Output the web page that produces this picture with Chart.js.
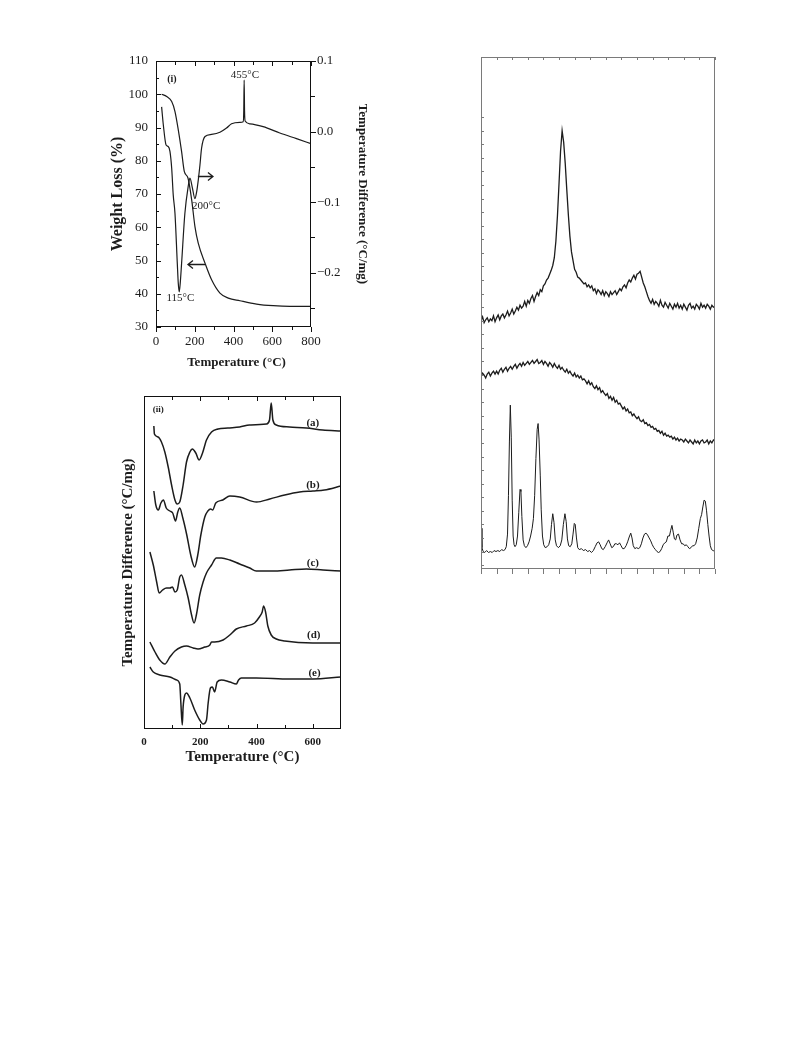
<!DOCTYPE html>
<html>
<head>
<meta charset="utf-8">
<script src="https://cdn.jsdelivr.net/npm/chart.js@4.4.0/dist/chart.umd.min.js"></script>
<style>
  html, body { margin: 0; padding: 0; background: #fff; }
  body { width: 791px; height: 1043px; position: relative; overflow: hidden; }
  canvas { position: absolute; }
</style>
</head>
<body>
<canvas id="tga" width="280" height="330" style="left:100px;top:45px"></canvas>
<canvas id="dta" width="260" height="390" style="left:100px;top:385px"></canvas>
<canvas id="xrd" width="260" height="540" style="left:470px;top:45px"></canvas>
<script>
// ---- panel (i): TG / DTA of the precursor ----
const tgTemp = [29, 55, 81, 98, 115, 132, 146, 165, 184, 201, 218, 253, 287, 330, 373, 433, 519, 605, 691, 800];
const tgWeight = [100, 99.3, 97.8, 94.8, 89.3, 82.8, 76.8, 74.8, 68.3, 60.2, 55.2, 49.2, 44.2, 40.2, 38.7, 37.9, 36.9, 36.4, 36.2, 36.2];

const dtaTemp = [29, 38, 52, 63, 72, 81, 89, 98, 110, 115, 120, 125, 132, 149, 166, 175, 188, 201, 210, 218,
  227, 235, 253, 287, 330, 364, 390, 433, 450, 453, 455, 457, 460, 485, 553, 639, 725, 800];
const dtaDiff = [0.035, 0.009, -0.019, -0.021, -0.028, -0.052, -0.09, -0.116, -0.187, -0.215, -0.227, -0.215, -0.187, -0.116, -0.078, -0.066, -0.080, -0.095, -0.085, -0.069,
  -0.047, -0.024, -0.007, -0.004, -0.001, 0.005, 0.011, 0.013, 0.014, 0.030, 0.073, 0.030, 0.015, 0.011, 0.007, -0.002, -0.010, -0.017];

const tempTicks = [0, 200, 400, 600, 800];
const tempMinor = [100, 300, 500, 700];
const weightTicks = [30, 40, 50, 60, 70, 80, 90, 100, 110];
const weightMinor = [35, 45, 55, 65, 75, 85, 95, 105];
const diffTicks = [0.1, 0, -0.1, -0.2];
const diffLabels = ['0.1', '0.0', '\u22120.1', '\u22120.2'];
const diffMinor = [0.05, -0.05, -0.15, -0.25];

// ---- panel (ii): DTA curves (a)-(e), offset in arbitrary units ----
const aTemp = [35, 37, 50, 62, 74, 86, 98, 110, 118, 127, 139, 151, 163, 172, 184, 196, 208, 222, 240, 263, 298, 340, 375, 435, 446, 452, 458, 470, 517, 577, 635, 700];
const aSignal = [303, 295, 292, 287, 277, 262, 244, 229, 225, 227, 244, 267, 277, 280, 276, 269, 276, 289, 297, 300, 301, 302, 304, 305, 309, 326, 309, 304, 302, 301, 299, 298];
const bTemp = [35, 42, 51, 60, 69, 79, 92, 102, 112, 120, 127, 138, 152, 166, 180, 191, 202, 216, 227, 237, 244, 255, 280, 305, 340, 400, 447, 500, 553, 600, 641, 700];
const bSignal = [238, 224, 219, 226, 229, 221, 218, 216, 208, 217, 221, 211, 194, 174, 162, 174, 194, 212, 218, 220, 219, 226, 229, 233, 232, 227, 230, 234, 237, 238, 239, 243];
const cTemp = [21, 33, 45, 54, 66, 80, 92, 101, 110, 118, 127, 133, 145, 157, 169, 178, 186, 198, 210, 222, 240, 257, 275, 305, 340, 376, 399, 458, 517, 577, 636, 700];
const cSignal = [177, 164, 147, 136, 139, 141, 141, 142, 137, 139, 152, 154, 144, 131, 114, 106, 114, 134, 147, 156, 164, 171, 171, 169, 165, 161, 158, 158, 159, 160, 159, 158];
const dTemp = [21, 39, 56, 74, 92, 110, 133, 151, 175, 192, 216, 234, 240, 251, 281, 305, 328, 364, 393, 410, 420, 425, 432, 440, 452, 470, 500, 600, 700];
const dSignal = [87, 77, 69, 65, 72, 78, 82, 83, 81, 80, 82, 84, 87, 87, 89, 94, 100, 103, 106, 112, 117, 123, 117, 103, 94, 90, 88, 86, 86];
const eTemp = [21, 33, 56, 92, 116, 127, 131, 136, 139, 145, 151, 163, 180, 198, 210, 222, 228, 236, 243, 251, 260, 275, 305, 328, 336, 346, 399, 517, 600, 700];
const eSignal = [62, 57, 54, 52, 49, 45, 26, 4, 22, 34, 36, 31, 19, 9, 5, 9, 26, 41, 42, 37, 47, 49, 47, 45, 49, 51, 51, 50, 50, 52];
const curveNames = ['(a)', '(b)', '(c)', '(d)', '(e)'];
const curveTicks = [0, 200, 400, 600];
const curveMinor = [100, 300, 500];

// ---- panel (iii): XRD patterns ----
const scanStart = 5, scanStep = 0.5;
const xrdTop = [
  240, 244, 238, 241, 243, 239, 242, 240, 245, 239,
  243, 246, 241, 245, 247, 243, 246, 250, 245, 248,
  252, 247, 250, 254, 251, 256, 253, 255, 260, 255,
  261, 258, 263, 266, 260, 265, 269, 266, 272, 270,
  276, 278, 282, 284, 288, 292, 297, 305, 322, 348,
  381, 415, 436, 424, 402, 375, 349, 327, 311, 302,
  293, 290, 285, 284, 282, 280, 278, 279, 275, 277,
  274, 276, 271, 273, 268, 272, 270, 267, 271, 266,
  270, 268, 265, 270, 267, 269, 271, 267, 270, 273,
  271, 275, 277, 274, 279, 282, 280, 284, 287, 283,
  288, 289, 291, 285, 279, 275, 270, 265, 261, 258,
  262, 257, 260, 258, 255, 261, 256, 254, 259, 256,
  253, 258, 255, 252, 257, 254, 258, 253, 256, 252,
  257, 254, 251, 256, 258, 253, 255, 252, 257, 255,
  252, 258, 254, 256, 253, 257, 255, 252, 256, 254,
  255];
const xrdMiddle = [
  183, 186, 184, 181, 185, 187, 183, 186, 188, 185,
  188, 185, 189, 191, 187, 190, 192, 188, 191, 193,
  190, 193, 195, 191, 194, 196, 193, 197, 194, 196,
  198, 195, 197, 199, 196, 198, 200, 196, 197, 199,
  195, 198, 196, 193, 197, 195, 192, 196, 193, 191,
  194, 190, 192, 189, 187, 190, 186, 188, 185, 183,
  186, 182, 184, 181, 183, 179, 180, 178, 175, 178,
  174, 176, 172, 170, 173, 169, 171, 166, 168, 165,
  163, 165, 160, 162, 158, 161, 156, 158, 154, 155,
  152, 149, 151, 147, 149, 145, 146, 142, 144, 141,
  139, 141, 137, 136, 138, 134, 135, 132, 133, 130,
  131, 128, 129, 126, 127, 124, 126, 122, 124, 121,
  122, 120, 121, 118, 120, 117, 119, 116, 118, 117,
  115, 118, 116, 114, 117, 115, 113, 117, 114, 116,
  113, 116, 117, 114, 115, 117, 113, 116, 114, 117,
  116];
const xrdBottomAngle = [
  5.0, 5.3, 5.7, 6.2, 6.8, 7.4, 8.0, 8.6, 9.2, 9.8,
  10.4, 11.0, 11.6, 12.2, 12.7, 13.1, 13.5, 13.8, 14.1, 14.4,
  14.7, 15.0, 15.3, 15.6, 15.9, 16.3, 16.7, 17.1, 17.5, 17.8,
  18.1, 18.5, 18.9, 19.4, 19.9, 20.4, 20.9, 21.4, 21.8, 22.2,
  22.6, 23.0, 23.3, 23.6, 24.0, 24.3, 24.7, 25.1, 25.6, 26.2,
  26.7, 27.2, 27.6, 28.0, 28.4, 28.8, 29.2, 29.8, 30.4, 30.9,
  31.4, 31.9, 32.3, 32.7, 33.1, 33.6, 34.1, 34.5, 34.9, 35.2,
  35.6, 36.0, 36.5, 37.2, 37.8, 38.5, 39.2, 39.8, 40.4, 41.0,
  41.6, 42.2, 42.7, 43.2, 43.7, 44.2, 44.8, 45.4, 45.9, 46.4,
  46.9, 47.4, 47.9, 48.4, 48.9, 49.4, 49.9, 50.4, 50.9, 51.5,
  52.0, 52.5, 53.0, 53.4, 53.8, 54.3, 54.9, 55.4, 55.9, 56.4,
  56.9, 57.4, 57.9, 58.4, 58.9, 59.4, 59.9, 60.4, 60.9, 61.4,
  61.9, 62.4, 62.9, 63.4, 63.9, 64.4, 64.9, 65.4, 65.8, 66.2,
  66.6, 67.0, 67.4, 67.8, 68.3, 68.8, 69.3, 69.8, 70.3, 70.8,
  71.3, 71.8, 72.3, 72.8, 73.3, 73.8, 74.3, 74.8, 75.3, 75.7,
  76.1, 76.5, 76.9, 77.3, 77.7, 78.1, 78.5, 78.9, 79.4, 80.0];
const xrdBottomCounts = [
  26, 6, 2, 1, 3, 1, 2, 1, 3, 2,
  3, 2, 4, 3, 4, 7, 20, 60, 115, 153,
  120, 55, 18, 9, 7, 9, 18, 42, 66, 64,
  38, 14, 8, 6, 8, 12, 18, 26, 36, 60,
  98, 128, 134, 118, 80, 45, 18, 9, 6, 7,
  9, 15, 30, 41, 32, 14, 8, 6, 8, 14,
  30, 41, 33, 15, 8, 7, 10, 20, 31, 30,
  16, 6, 4, 5, 3, 4, 2, 3, 1, 3,
  7, 11, 12, 9, 5, 4, 7, 11, 14, 10,
  6, 7, 10, 10, 9, 11, 8, 5, 5, 8,
  12, 17, 21, 16, 8, 5, 6, 5, 6, 10,
  16, 20, 21, 19, 16, 13, 9, 6, 4, 2,
  1, 2, 5, 9, 11, 12, 18, 18, 24, 29,
  22, 15, 14, 19, 20, 14, 10, 10, 8, 9,
  7, 5, 6, 8, 8, 10, 16, 26, 36, 40,
  48, 55, 54, 44, 30, 18, 8, 4, 3, 2];
const angleTicks = [5, 10, 15, 20, 25, 30, 35, 40, 45, 50, 55, 60, 65, 70, 75, 80];
const countTicks = [450, 436, 422, 408, 394, 380, 366, 352, 338, 324, 310, 296, 282, 268, 254, 240, 226,
  212, 198, 184, 170, 156, 142, 128, 114, 100, 86, 72, 58, 44, 30, 16, 2, -12];

const INK = '#1c1c1c';
const SERIF = '"Liberation Serif", "Times New Roman", serif';

function pts(xs, ys) {
  return xs.map((x, i) => ({ x: x, y: ys[i] }));
}

// draws frame, inward/outward ticks, tick labels, titles and notes via the chart scales
const framePlugin = {
  id: 'frame',
  afterDatasetsDraw(chart, args, opts) {
    const ctx = chart.ctx, a = chart.chartArea, sc = chart.scales;
    ctx.save();
    ctx.strokeStyle = opts.color;
    ctx.fillStyle = INK;
    ctx.lineWidth = 1;
    const l = Math.round(a.left), t = Math.round(a.top), r = Math.round(a.right), b = Math.round(a.bottom);
    ctx.strokeRect(l + 0.5, t + 0.5, r - l - 1, b - t - 1);

    for (const tk of opts.ticks || []) {
      const s = sc[tk.scale];
      const d = tk.out ? tk.len : -tk.len;
      for (const v of tk.values) {
        const p = Math.round(s.getPixelForValue(v)) + 0.5;
        ctx.beginPath();
        if (tk.side === 'bottom') { ctx.moveTo(p, b); ctx.lineTo(p, b + d); }
        else if (tk.side === 'top') { ctx.moveTo(p, t); ctx.lineTo(p, t - d); }
        else if (tk.side === 'left') { ctx.moveTo(l, p); ctx.lineTo(l - d, p); }
        else { ctx.moveTo(r, p); ctx.lineTo(r + d, p); }
        ctx.stroke();
      }
    }

    for (const lb of opts.labels || []) {
      const s = sc[lb.scale];
      ctx.font = lb.font;
      ctx.textBaseline = 'middle';
      lb.values.forEach((v, i) => {
        const p = s.getPixelForValue(v);
        const txt = lb.text ? lb.text[i] : String(v);
        if (lb.side === 'bottom') { ctx.textAlign = 'center'; ctx.fillText(txt, p, b + lb.offset); }
        else if (lb.side === 'left') { ctx.textAlign = 'right'; ctx.fillText(txt, l - lb.offset, p); }
        else { ctx.textAlign = 'left'; ctx.fillText(txt, r + lb.offset, p); }
      });
    }

    for (const ti of opts.titles || []) {
      ctx.font = ti.font;
      ctx.textAlign = 'center';
      ctx.textBaseline = 'middle';
      let x, y, rot = 0;
      if (ti.side === 'bottom') { x = (l + r) / 2; y = b + ti.offset; }
      else if (ti.side === 'left') { x = l - ti.offset; y = (t + b) / 2; rot = -Math.PI / 2; }
      else { x = r + ti.offset; y = (t + b) / 2; rot = Math.PI / 2; }
      ctx.save();
      ctx.translate(x + (ti.dx || 0), y + (ti.dy || 0));
      ctx.rotate(rot);
      ctx.fillText(ti.text, 0, 0);
      ctx.restore();
    }

    for (const n of opts.notes || []) {
      ctx.font = n.font;
      ctx.textAlign = 'center';
      ctx.textBaseline = 'middle';
      ctx.fillText(n.text, sc.x.getPixelForValue(n.x), sc[n.yScale].getPixelForValue(n.y));
    }

    ctx.strokeStyle = INK;
    ctx.lineWidth = 1.3;
    for (const ar of opts.arrows || []) {
      const y = Math.round(sc[ar.yScale].getPixelForValue(ar.y)) + 0.5;
      const x1 = sc.x.getPixelForValue(ar.from), x2 = sc.x.getPixelForValue(ar.to);
      const dir = x2 > x1 ? 1 : -1;
      ctx.beginPath();
      ctx.moveTo(x1, y); ctx.lineTo(x2, y);
      ctx.moveTo(x2 - dir * 5, y - 4); ctx.lineTo(x2, y); ctx.lineTo(x2 - dir * 5, y + 4);
      ctx.stroke();
    }
    ctx.restore();
  }
};

function lineSet(data, yAxisID, width, smooth) {
  return {
    data: data, yAxisID: yAxisID,
    borderColor: INK, borderWidth: width,
    pointRadius: 0, fill: false,
    cubicInterpolationMode: smooth ? 'monotone' : 'default',
    tension: 0
  };
}

function axis(min, max) {
  return { type: 'linear', min: min, max: max, bounds: 'data', display: false };
}

const baseOptions = {
  responsive: false,
  animation: false,
  events: [],
  plugins: { legend: { display: false }, tooltip: { enabled: false } }
};

// panel (i)
new Chart(document.getElementById('tga'), {
  type: 'line',
  data: {
    datasets: [
      lineSet(pts(tgTemp, tgWeight), 'yL', 1.2, true),
      lineSet(pts(dtaTemp, dtaDiff), 'yR', 1.2, true)
    ]
  },
  options: {
    ...baseOptions,
    layout: { padding: { left: 56, top: 16, right: 69, bottom: 48 } },
    scales: {
      x: axis(0, 800),
      yL: axis(30, 110),
      yR: axis(-0.2768, 0.1)
    },
    plugins: {
      ...baseOptions.plugins,
      frame: {
        color: '#111',
        ticks: [
          { scale: 'x', side: 'bottom', values: tempTicks, len: 5, out: true },
          { scale: 'x', side: 'bottom', values: tempMinor, len: 3, out: true },
          { scale: 'x', side: 'top', values: tempTicks, len: 5 },
          { scale: 'x', side: 'top', values: tempMinor, len: 4 },
          { scale: 'yL', side: 'left', values: weightTicks, len: 5 },
          { scale: 'yL', side: 'left', values: weightMinor, len: 3 },
          { scale: 'yR', side: 'right', values: diffTicks, len: 5, out: true },
          { scale: 'yR', side: 'right', values: diffMinor, len: 4, out: true }
        ],
        labels: [
          { scale: 'x', side: 'bottom', values: tempTicks, offset: 15, font: '13px ' + SERIF },
          { scale: 'yL', side: 'left', values: weightTicks, offset: 8, font: '13px ' + SERIF },
          { scale: 'yR', side: 'right', values: diffTicks, text: diffLabels, offset: 6, font: '13px ' + SERIF }
        ],
        titles: [
          { side: 'bottom', text: 'Temperature (\u00B0C)', offset: 36, dx: 3, font: 'bold 13px ' + SERIF },
          { side: 'left', text: 'Weight Loss (%)', offset: 38, font: 'bold 16px ' + SERIF },
          { side: 'right', text: 'Temperature Difference (\u00B0C/mg)', offset: 51, font: 'bold 13px ' + SERIF }
        ],
        notes: [
          { text: '(i)', x: 82, y: 104.6, yScale: 'yL', font: 'bold 10px ' + SERIF },
          { text: '455\u00B0C', x: 459, y: 0.080, yScale: 'yR', font: '11px ' + SERIF },
          { text: '200\u00B0C', x: 259, y: -0.105, yScale: 'yR', font: '11px ' + SERIF },
          { text: '115\u00B0C', x: 126, y: 38.6, yScale: 'yL', font: '11px ' + SERIF }
        ],
        arrows: [
          { from: 216, to: 294, y: -0.063, yScale: 'yR' },
          { from: 253, to: 165, y: 48.9, yScale: 'yL' }
        ]
      }
    }
  },
  plugins: [framePlugin]
});

// panel (ii)
const curveSets = [[aTemp, aSignal], [bTemp, bSignal], [cTemp, cSignal], [dTemp, dSignal], [eTemp, eSignal]];
const curveLabelAt = [[600, 306], [600, 244], [600, 166], [603, 94], [606, 56]];
new Chart(document.getElementById('dta'), {
  type: 'line',
  data: { datasets: curveSets.map(c => lineSet(pts(c[0], c[1]), 'y', 1.5, true)) },
  options: {
    ...baseOptions,
    layout: { padding: { left: 44, top: 11, right: 19, bottom: 46 } },
    scales: {
      x: axis(0, 700),
      y: axis(0, 333)
    },
    plugins: {
      ...baseOptions.plugins,
      frame: {
        color: '#111',
        ticks: [
          { scale: 'x', side: 'bottom', values: curveTicks, len: 5 },
          { scale: 'x', side: 'bottom', values: curveMinor, len: 4 },
          { scale: 'x', side: 'top', values: curveTicks, len: 5 },
          { scale: 'x', side: 'top', values: curveMinor, len: 4 }
        ],
        labels: [
          { scale: 'x', side: 'bottom', values: curveTicks, offset: 13, font: 'bold 11px ' + SERIF }
        ],
        titles: [
          { side: 'bottom', text: 'Temperature (\u00B0C)', offset: 28, font: 'bold 15px ' + SERIF },
          { side: 'left', text: 'Temperature Difference (\u00B0C/mg)', offset: 16, font: 'bold 15px ' + SERIF }
        ],
        notes: [{ text: '(ii)', x: 51, y: 319, yScale: 'y', font: 'bold 9px ' + SERIF }]
          .concat(curveNames.map((n, i) => ({ text: n, x: curveLabelAt[i][0], y: curveLabelAt[i][1], yScale: 'y', font: 'bold 11px ' + SERIF })))
      }
    }
  },
  plugins: [framePlugin]
});

// panel (iii)
const scanAngles = xrdTop.map((v, i) => scanStart + i * scanStep);
new Chart(document.getElementById('xrd'), {
  type: 'line',
  data: {
    datasets: [
      lineSet(pts(scanAngles, xrdTop), 'y', 1.3, false),
      lineSet(pts(scanAngles, xrdMiddle), 'y', 1.3, false),
      lineSet(pts(xrdBottomAngle, xrdBottomCounts), 'y', 1, false)
    ]
  },
  options: {
    ...baseOptions,
    layout: { padding: { left: 11, top: 12, right: 15, bottom: 16 } },
    scales: {
      x: axis(5, 80),
      y: axis(-16, 512)
    },
    plugins: {
      ...baseOptions.plugins,
      frame: {
        color: '#7a7a7a',
        ticks: [
          { scale: 'x', side: 'bottom', values: angleTicks, len: 5, out: true },
          { scale: 'x', side: 'top', values: angleTicks, len: 3 },
          { scale: 'y', side: 'left', values: countTicks, len: 3 }
        ]
      }
    }
  },
  plugins: [framePlugin]
});
</script>
</body>
</html>
